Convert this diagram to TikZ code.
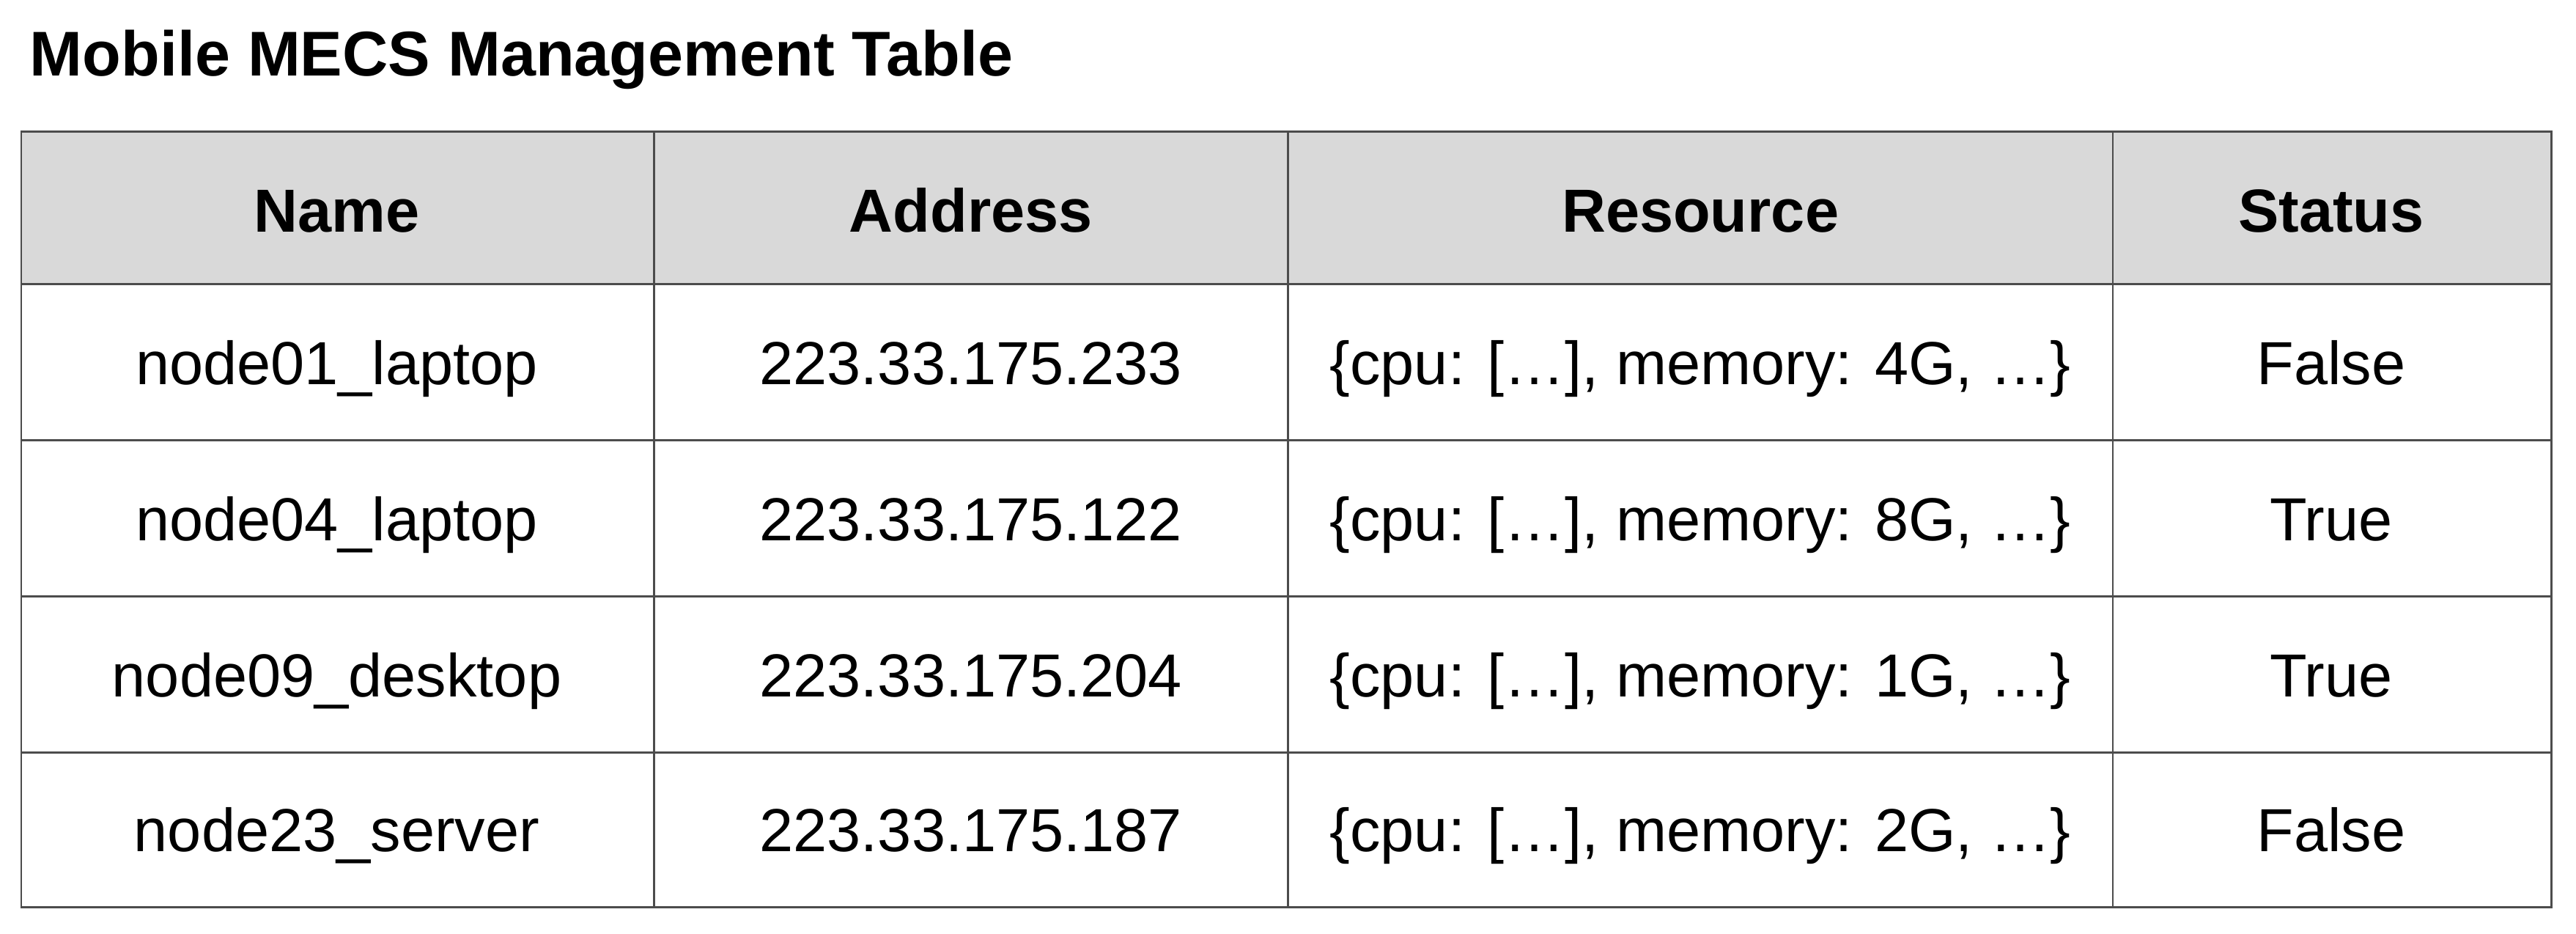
\documentclass[tikz,border=0pt]{standalone}
\usepackage{fontspec}
\setmainfont{Liberation Sans}
\begin{document}
\begin{tikzpicture}[x=1pt,y=-1pt,
  cell/.style={font=\fontsize{37}{40}\selectfont, anchor=base},
  head/.style={font=\fontsize{37}{40}\selectfont\bfseries, anchor=base},
  grid/.style={draw=black!70, line width=1.2pt}]
\useasboundingbox (0,0) rectangle (1568,568);
\node[font=\fontsize{38.5}{42}\selectfont\bfseries, anchor=base west, inner sep=0pt] (title) at (18,46) {Mobile MECS Management Table};
\fill[black!15] (13,80) rectangle (1553,173);
\draw[grid] (13,80) rectangle (1553,552);
\foreach \y in {173,268,363,458} \draw[grid] (13,\y) -- (1553,\y);
\foreach \x in {398,784,1286} \draw[grid] (\x,80) -- (\x,552);
\node[head] (h1) at (205,141) {Name};
\node[head] (h2) at (591,141) {Address};
\node[head] (h3) at (1035,141) {Resource};
\node[head] (h4) at (1419,141) {Status};
\foreach \i/\y/\n/\a/\m/\s in {1/234/node01\_laptop/223.33.175.233/4G/False,
  2/329/node04\_laptop/223.33.175.122/8G/True,
  3/424/node09\_desktop/223.33.175.204/1G/True,
  4/518/node23\_server/223.33.175.187/2G/False}{
  \node[cell] (n\i) at (205,\y) {\n};
  \node[cell] (a\i) at (591,\y) {\a};
  \node[cell] (r\i) at (1035,\y) {\{cpu: […], memory: \m, …\}};
  \node[cell] (s\i) at (1419,\y) {\s};
}
\end{tikzpicture}
\end{document}
